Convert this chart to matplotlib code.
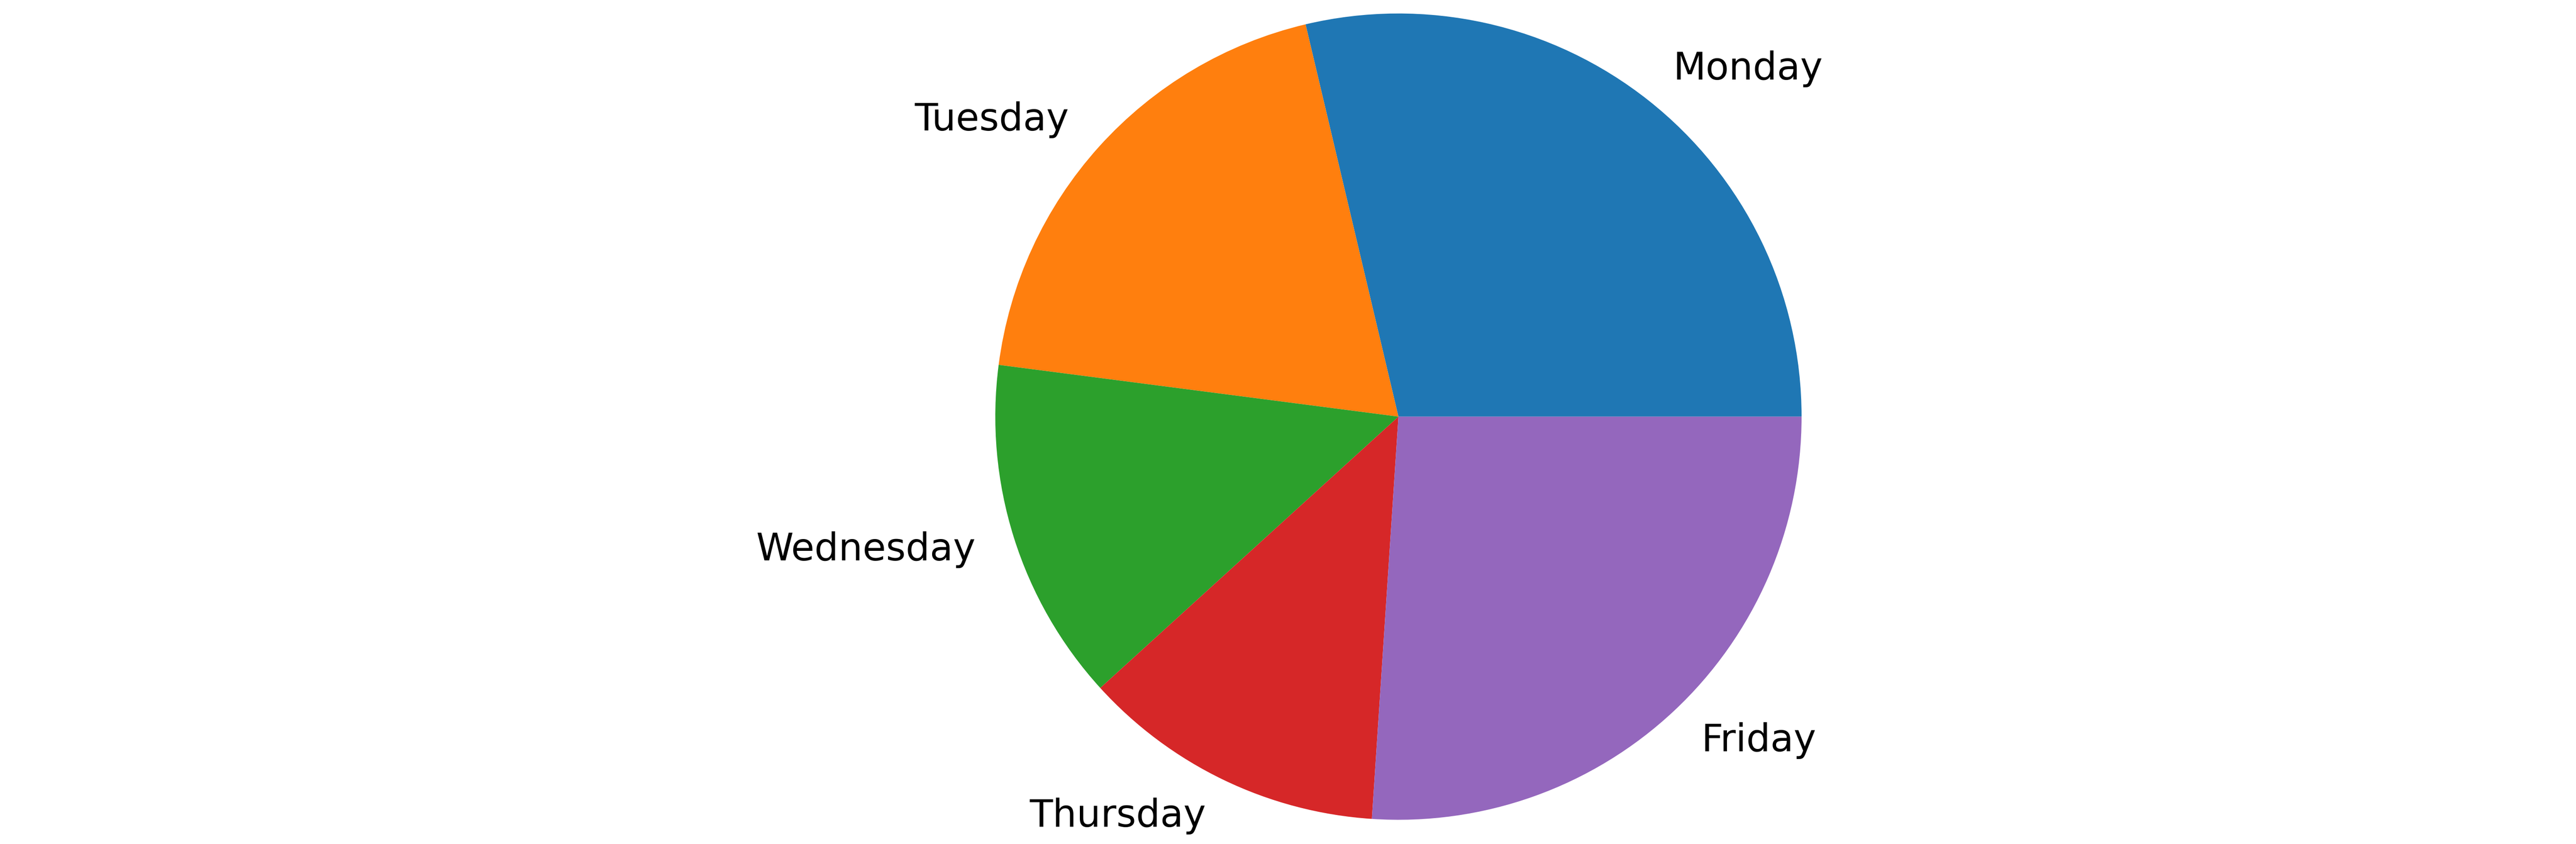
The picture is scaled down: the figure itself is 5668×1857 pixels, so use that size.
import matplotlib
matplotlib.use("Agg")
import matplotlib.pyplot as plt

days = ["Monday", "Tuesday", "Wednesday", "Thursday", "Friday"]
shares = [28.7, 19.25, 13.8, 12.2, 26.05]

W, H, DPI = 5668, 1857, 400
fig = plt.figure(figsize=(W / DPI, H / DPI), dpi=DPI)
ax = fig.add_axes([0, 0, 1, 1])
ax.pie(shares, labels=days, textprops={"fontsize": 15})

# place pie: center (3077, 916.7) px from top-left, radius 887 px
R = 887.0
cx, cy = 3077.0, 916.7
ax.set_xlim(-cx / R, (W - cx) / R)
ax.set_ylim(-(H - cy) / R, cy / R)
ax.axis("off")

fig.savefig("out.png", dpi=DPI)
